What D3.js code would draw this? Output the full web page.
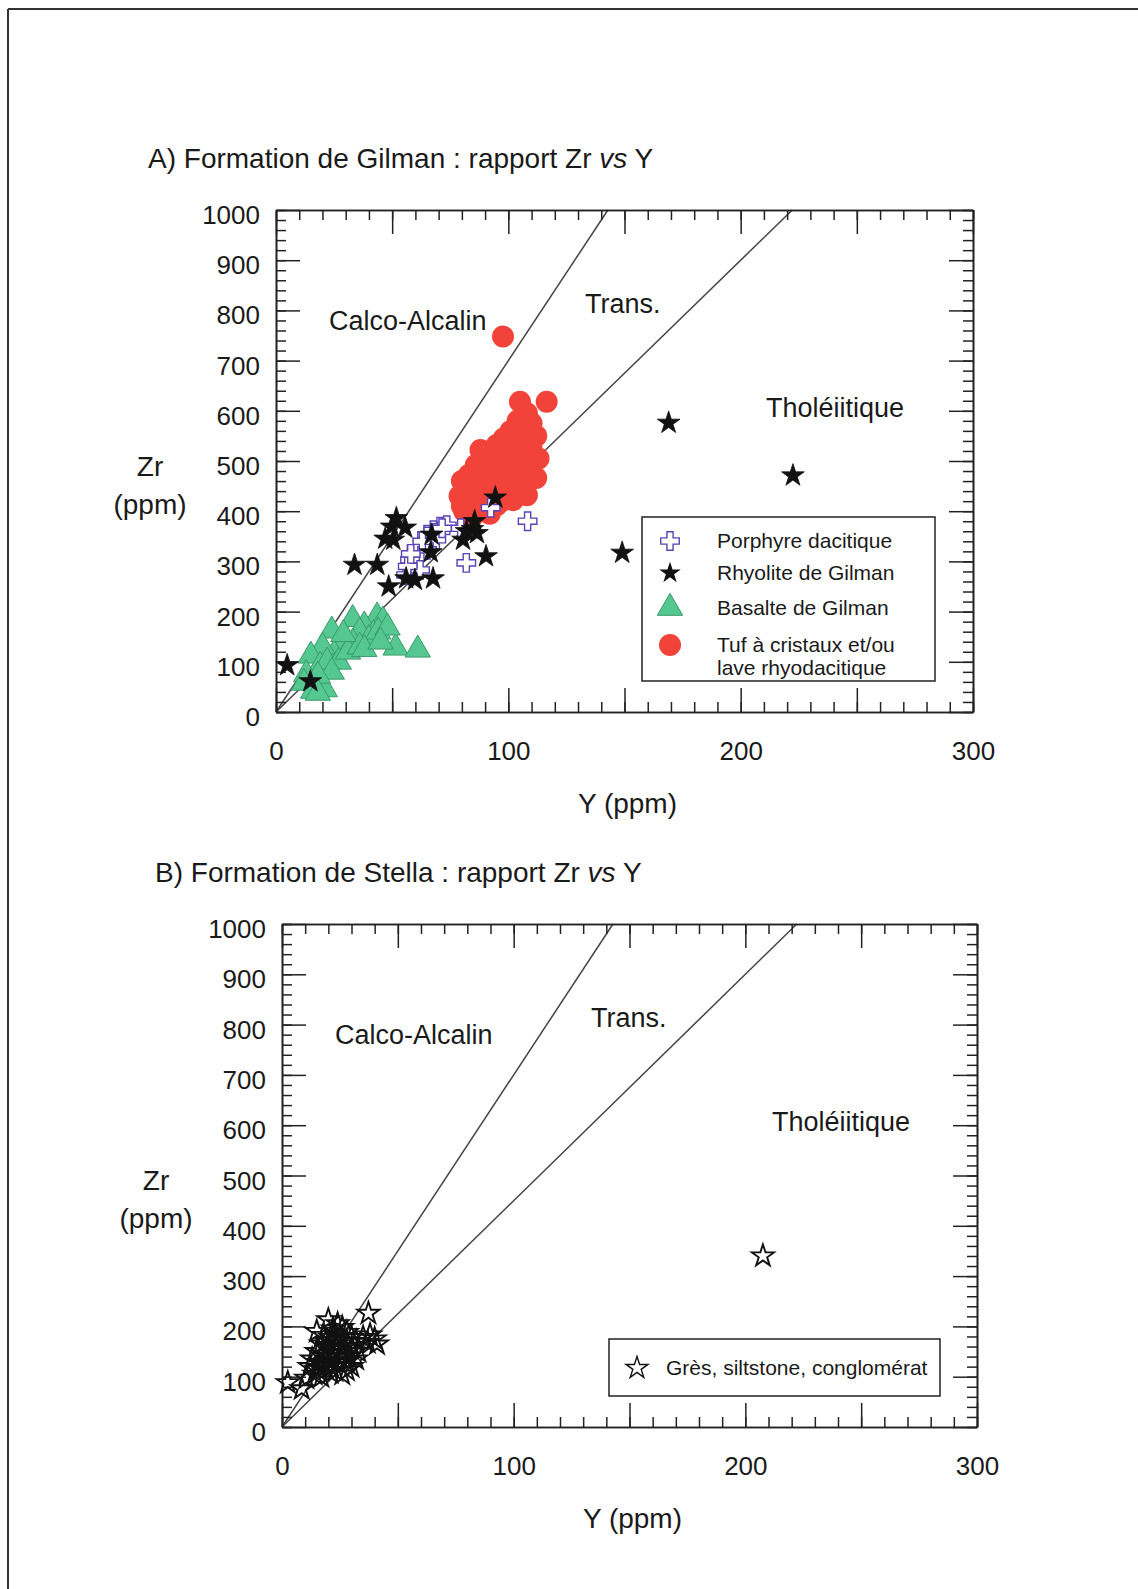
<!DOCTYPE html>
<html><head><meta charset="utf-8">
<script src="https://cdn.jsdelivr.net/npm/d3@7"></script>
<style>
body{margin:0;background:#fff}
svg{display:block}
text{font-family:"Liberation Sans",Arial,sans-serif;fill:#1a1a1a}
</style>
</head><body>
<svg id="c" width="1138" height="1589"></svg>
<script>
// ---------- DATA ----------
const xTickLabels = [0, 100, 200, 300];
const yTickLabels = [0, 100, 200, 300, 400, 500, 600, 700, 800, 900, 1000];
const boundaryRatios = [7, 4.5]; // Zr/Y boundaries
const regionNames = ["Calco-Alcalin", "Trans.", "Tholéiitique"];

// Panel A : Formation de Gilman  [Y, Zr]
const tufRhyodacitique = [
  [97.7,748],[116.5,618],[105,618],
  [108,595],[110,575],[104,580],[107,558],[112,550],[101,560],[98,545],[95,532],[103,530],
  [110,525],[113,505],[108,508],[100,512],[93,518],[88,522],[90,500],[96,497],[104,492],
  [110,482],[106,466],[99,472],[92,482],[86,492],[83,472],[88,458],[95,456],[102,452],
  [100,432],[94,437],[87,442],[81.5,442],[82,422],[88,418],[95,412],[81,400],[84,385],
  [90,400],[106,442],[102,422],[112,466],[108,432],[97,420],[92,395],[80,410],[86,400],
  [80,460],[79,430]
];
const basalteGilman = [
  [43.5,190],[33,185],[38,172],[46,182],[51.5,128],[61,124],[24,162],[30,147],[36,160],
  [42,155],[40,145],[28,130],[33,138],[25,115],[20,130],[15,112],[19,92],[22,100],[17,62],
  [21,45],[13,75],[12,58],[16,42],[27,100],[31,120],[36,130],[44,160],[38,125],[24,80],
  [18,72],[48,168],[45,140],[29,155],[18,38]
];
const porphyreDacitique = [
  [108.3,380],[81.9,297],[92.4,407],[60.5,326],[57.7,303],[56,273],[65,353],[67.7,362],
  [70.6,369],[69,343],[65,323],[73.5,372],[62,283],[56.7,290],[71.5,366],[79.5,366],
  [63,340],[58,315]
];
const rhyoliteGilman = [
  [4.8,93],[14.8,61],[33.8,293],[43.6,293],[48.5,250],[51.8,386],[47,345],[50.5,343],
  [55.6,367],[49.8,369],[56,266],[59.8,263],[67.6,266],[67,353],[66.6,318],[80.5,343],
  [82,360],[84.5,364],[85.5,380],[86.5,356],[90.4,310],[94.4,427],[169,576],[222.5,471],
  [149,317]
];

// Panel B : Formation de Stella  [Y, Zr]
const gresSiltstone = [
  [207.6,340],
  [37.3,226],[20,213],[15,190],[38,183],[40,175],[37,168],[41,165],[35,178],
  [2.5,88],[8.5,76],[10.5,97],[14,105],[28,113],[30,120],
  [24,205],[22,195],[26,198],[28,188],[18,182],[21,178],[25,180],[30,178],[32,170],
  [17,165],[20,160],[23,165],[27,160],[30,155],[33,150],
  [15,150],[18,145],[22,148],[26,145],[29,140],[32,135],
  [13,135],[16,128],[20,132],[24,128],[28,130],
  [12,120],[15,115],[19,115],[23,112],[26,105],[17,100],[21,122],
  [19,170],[24,172],[22,155],[25,138],[20,140],[18,125],[23,185],[27,170],[16,118],[21,108]
];

const legendA = ["Porphyre dacitique", "Rhyolite de Gilman", "Basalte de Gilman",
                 ["Tuf à cristaux et/ou", "lave rhyodacitique"]];
const legendB = ["Grès, siltstone, conglomérat"];

// ---------- STYLE ----------
const RED = "#f2433a", GREEN = "#55c891", GREEN_S = "#3a9a6a", PURPLE = "#5a43b6", INK = "#222";
const svg = d3.select("#c");

// outer border (top + left)
svg.append("line").attr("x1",8).attr("y1",9).attr("x2",1138).attr("y2",9).attr("stroke","#333").attr("stroke-width",2);
svg.append("line").attr("x1",8).attr("y1",9).attr("x2",8).attr("y2",1589).attr("stroke","#333").attr("stroke-width",2);

function panel(f) {
  const g = svg.append("g");
  const x = d3.scaleLinear().domain([0,300]).range([f.left,f.right]);
  const y = d3.scaleLinear().domain([0,1000]).range([f.bottom,f.top]);

  // title
  const t = g.append("text").attr("x",f.titleX).attr("y",f.titleY).attr("dy","0.35em")
    .attr("font-size",28);
  t.append("tspan").text(f.title + " : rapport Zr ");
  t.append("tspan").attr("font-style","italic").text("vs");
  t.append("tspan").text(" Y");

  // boundary lines
  boundaryRatios.forEach(r => {
    g.append("line").attr("x1",x(0)).attr("y1",y(0)).attr("x2",x(1000/r)).attr("y2",y(1000))
      .attr("stroke","#444").attr("stroke-width",1.5);
  });

  // axes ticks (inward) on all four sides
  const minorX = d3.range(0,301,10), majorX = d3.range(0,301,50);
  const minorY = d3.range(0,1001,20), majorY = d3.range(0,1001,100);
  const sides = [
    [d3.axisBottom, x, `translate(0,${f.bottom})`, minorX, majorX],
    [d3.axisTop, x, `translate(0,${f.top})`, minorX, majorX],
    [d3.axisLeft, y, `translate(${f.left},0)`, minorY, majorY],
    [d3.axisRight, y, `translate(${f.right},0)`, minorY, majorY]
  ];
  sides.forEach(([ax, sc, tr, mi, ma]) => {
    const a1 = g.append("g").attr("transform",tr)
      .call(ax(sc).tickValues(mi).tickSize(-10).tickSizeOuter(0).tickFormat(""));
    const a2 = g.append("g").attr("transform",tr)
      .call(ax(sc).tickValues(ma).tickSize(-24).tickSizeOuter(0).tickFormat(""));
    [a1,a2].forEach(a => { a.selectAll("line").attr("stroke",INK).attr("stroke-width",1.5);
      a.select(".domain").attr("stroke",INK).attr("stroke-width",1.6); });
  });

  // tick labels
  const xl = g.append("g").attr("transform",`translate(0,${f.bottom})`)
    .call(d3.axisBottom(x).tickValues(xTickLabels).tickSize(0).tickFormat(d3.format("d")));
  xl.select(".domain").remove();
  xl.selectAll("text").attr("y",39).attr("dy","0.35em").attr("font-size",26)
    .attr("font-family",null).attr("fill","#1a1a1a");
  const yl = g.append("g").attr("transform",`translate(${f.left},0)`)
    .call(d3.axisLeft(y).tickValues(yTickLabels).tickSize(0).tickFormat(d3.format("d")));
  yl.select(".domain").remove();
  yl.selectAll("text").attr("x",-16).attr("dy","0.52em").attr("font-size",26)
    .attr("font-family",null).attr("fill","#1a1a1a");

  // axis titles
  g.append("text").attr("x",f.left-126).attr("y",(f.top+f.bottom)/2+5).attr("dy","0.35em")
    .attr("text-anchor","middle").attr("font-size",28).text("Zr");
  g.append("text").attr("x",f.left-126).attr("y",(f.top+f.bottom)/2+43).attr("dy","0.35em")
    .attr("text-anchor","middle").attr("font-size",28).text("(ppm)");
  g.append("text").attr("x",(f.left+f.right)/2+3).attr("y",f.bottom+91).attr("dy","0.35em")
    .attr("text-anchor","middle").attr("font-size",28).text("Y (ppm)");

  // region labels
  const rl = [[f.left+53, f.top+111], [f.left+309, f.top+94], [f.left+490, f.top+198]];
  regionNames.forEach((n,i) => g.append("text").attr("x",rl[i][0]).attr("y",rl[i][1]).attr("dy","0.35em")
    .attr("font-size",27).text(n));

  return {g, x, y};
}

const star = s => d3.symbol(d3.symbolStar, s)();
const tri = d3.symbol(d3.symbolTriangle, 279)();
const cross = d3.symbol(d3.symbolCross, 190)();

// ---------- PANEL A ----------
const A = panel({left:276, right:973, top:210, bottom:712, titleX:148, titleY:158,
                 title:"A) Formation de Gilman"});
A.g.append("g").selectAll("circle").data(tufRhyodacitique).join("circle")
  .attr("cx",d=>A.x(d[0])).attr("cy",d=>A.y(d[1])).attr("r",11).attr("fill",RED);
A.g.append("g").selectAll("path").data(basalteGilman).join("path")
  .attr("transform",d=>`translate(${A.x(d[0])},${A.y(d[1])})`).attr("d",tri)
  .attr("fill",GREEN).attr("stroke",GREEN_S).attr("stroke-width",1);
A.g.append("g").selectAll("path").data(porphyreDacitique).join("path")
  .attr("transform",d=>`translate(${A.x(d[0])},${A.y(d[1])})`).attr("d",cross)
  .attr("fill","#fff").attr("stroke",PURPLE).attr("stroke-width",1.4);
A.g.append("g").selectAll("path").data(rhyoliteGilman).join("path")
  .attr("transform",d=>`translate(${A.x(d[0])},${A.y(d[1])})`).attr("d",star(160))
  .attr("fill","#111").attr("stroke","#111").attr("stroke-width",0.8);

// legend A
const LA = A.g.append("g");
LA.append("rect").attr("x",642).attr("y",517).attr("width",293).attr("height",164)
  .attr("fill","#fff").attr("stroke",INK).attr("stroke-width",1.5);
const laY = [541, 573, 608, 645];
LA.append("path").attr("transform",`translate(670,${laY[0]})`).attr("d",cross)
  .attr("fill","#fff").attr("stroke",PURPLE).attr("stroke-width",1.4);
LA.append("path").attr("transform",`translate(670,${laY[1]})`).attr("d",star(145)).attr("fill","#111");
LA.append("path").attr("transform",`translate(670,${laY[2]})`).attr("d",tri)
  .attr("fill",GREEN).attr("stroke",GREEN_S).attr("stroke-width",1);
LA.append("circle").attr("cx",670).attr("cy",laY[3]).attr("r",11).attr("fill",RED);
legendA.forEach((t,i) => {
  const lines = Array.isArray(t) ? t : [t];
  lines.forEach((s,j) => LA.append("text").attr("x",717).attr("y",laY[i]+j*23).attr("dy","0.35em")
    .attr("font-size",21).text(s));
});

// ---------- PANEL B ----------
const B = panel({left:282, right:977, top:924, bottom:1427, titleX:155, titleY:872,
                 title:"B) Formation de Stella"});
B.g.append("g").selectAll("path").data(gresSiltstone).join("path")
  .attr("transform",d=>`translate(${B.x(d[0])},${B.y(d[1])})`).attr("d",star(150))
  .attr("fill","none").attr("stroke","#111").attr("stroke-width",1.9);

const LB = B.g.append("g");
LB.append("rect").attr("x",609).attr("y",1339).attr("width",331).attr("height",57)
  .attr("fill","#fff").attr("stroke",INK).attr("stroke-width",1.5);
LB.append("path").attr("transform","translate(637,1368)").attr("d",star(150))
  .attr("fill","#fff").attr("stroke","#111").attr("stroke-width",1.4);
LB.append("text").attr("x",666).attr("y",1368).attr("dy","0.35em").attr("font-size",21).text(legendB[0]);
</script>
</body></html>
